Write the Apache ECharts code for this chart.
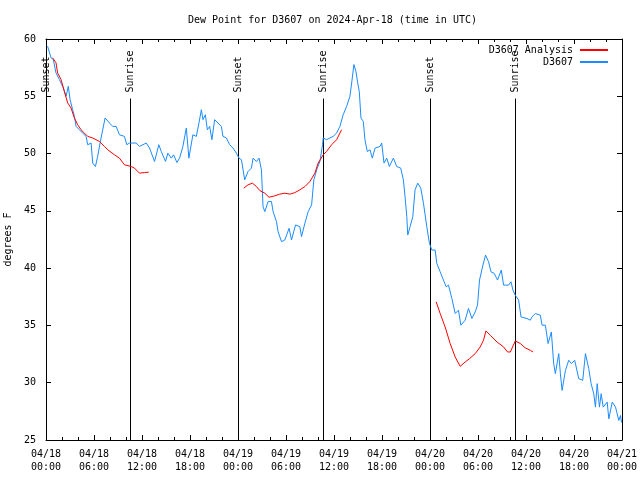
<!DOCTYPE html>
<html><head><meta charset="utf-8">
<script src="https://cdn.jsdelivr.net/npm/echarts@6/dist/echarts.min.js"></script>
<style>html,body{margin:0;padding:0;background:#fff}#c{width:640px;height:480px}</style>
</head><body><div id="c"></div>
<script>
const blueHours = [0.20,0.63,0.91,1.25,1.67,2.17,2.51,2.79,3.01,3.33,3.55,3.76,4.17,4.58,5.01,5.21,5.64,5.84,6.18,6.46,6.76,7.09,7.39,7.93,8.34,8.77,9.18,9.81,10.10,10.43,11.27,11.69,12.53,12.94,13.57,14.10,14.41,14.94,15.23,15.66,15.95,16.36,16.70,17.11,17.54,17.86,18.36,18.79,19.12,19.42,19.62,19.92,20.17,20.46,20.74,21.08,21.50,21.92,22.12,22.55,22.96,23.37,23.80,24.13,24.43,24.63,24.84,25.25,25.68,25.88,26.31,26.63,26.93,27.13,27.35,27.76,28.18,28.39,28.81,29.01,29.44,29.85,30.39,30.69,31.19,31.73,31.94,32.36,32.77,33.20,33.48,33.90,34.24,34.57,34.65,35.07,35.49,35.90,36.33,36.74,37.15,37.58,37.99,38.21,38.49,38.74,38.96,39.16,39.37,39.66,39.87,40.16,40.50,40.79,41.13,41.75,41.96,42.25,42.59,42.92,43.42,43.84,44.34,44.67,44.88,45.10,45.22,45.51,45.85,46.13,46.47,46.85,47.18,47.60,47.93,48.23,48.64,48.85,49.27,49.68,50.02,50.31,50.73,51.15,51.56,51.86,52.40,52.81,53.03,53.24,53.65,53.94,54.19,54.62,54.94,55.32,55.62,56.03,56.44,56.91,57.20,57.82,58.12,58.37,58.66,59.08,59.38,60.13,60.54,60.75,61.17,61.79,62.01,62.42,62.76,63.17,63.46,63.67,64.09,64.30,64.51,64.93,65.34,65.68,66.09,66.59,67.09,67.43,67.84,68.14,68.47,68.68,68.90,69.18,69.40,69.65,70.15,70.35,70.78,71.19,71.60,71.81,71.94];
const blueValues = [59.37,58.36,58.21,57.04,56.46,55.73,55.0,55.87,54.71,53.83,53.25,52.37,52.08,51.79,51.50,50.77,50.92,49.17,48.87,49.75,50.92,52.08,53.11,52.67,52.37,52.37,51.64,51.50,50.77,50.92,50.92,50.62,50.92,50.48,49.31,50.77,50.18,49.31,50.04,49.60,49.89,49.22,49.60,50.62,52.23,49.60,51.64,51.50,52.67,53.83,52.96,53.39,52.08,52.37,51.21,52.96,52.67,52.37,51.50,51.36,50.77,50.48,50.04,49.60,49.46,49.60,47.71,48.43,48.73,49.60,49.31,49.60,48.58,45.37,44.93,45.81,45.81,44.93,44.06,43.18,42.31,42.46,43.48,42.46,43.77,43.62,42.75,43.92,44.93,45.52,47.71,48.73,49.31,50.77,51.36,51.21,51.36,51.50,51.79,52.37,53.39,54.12,55.0,56.17,57.77,57.18,56.17,55.43,53.11,52.81,51.21,50.18,50.33,49.60,50.48,50.62,50.92,49.17,49.60,48.87,49.60,48.87,48.73,47.71,46.24,44.49,42.89,43.62,44.49,46.83,47.42,46.98,45.67,43.62,42.17,41.58,41.58,40.42,39.68,38.96,38.37,38.52,37.36,36.04,36.33,35.02,35.46,36.48,36.62,35.61,36.18,36.77,38.96,40.27,41.14,40.56,39.68,39.54,38.96,39.83,38.52,38.52,38.81,38.08,37.64,37.21,35.74,35.60,35.46,35.74,36.04,35.89,35.02,35.02,33.42,34.43,31.67,30.79,32.54,30.79,29.33,31.08,31.96,31.67,31.96,30.36,30.21,32.54,31.23,29.92,29.04,27.87,29.92,27.87,29.04,27.87,28.31,26.85,28.31,27.87,26.71,27.14,26.53];
const redHours = [0.83,1.25,1.45,1.88,2.29,2.71,3.13,3.55,3.96,4.38,4.80,5.21,5.84,6.68,7.30,7.72,8.56,9.18,9.81,10.65,11.06,11.69,12.31,12.85,18.0,24.72,25.25,25.80,26.31,26.72,27.35,27.88,28.60,29.22,29.85,30.48,31.10,31.73,32.36,32.99,33.61,34.02,34.65,35.07,35.70,36.33,36.74,36.95,42.0,48.77,49.27,49.89,50.52,51.15,51.77,52.40,52.94,53.65,54.27,54.69,54.99,55.53,56.37,57.20,57.70,58.04,58.66,59.29,59.91,60.54,60.88];
const redValues = [58.36,57.92,57.04,56.46,55.43,54.42,53.98,53.11,52.52,52.08,51.79,51.50,51.36,51.06,50.62,50.33,49.89,49.60,49.02,48.87,48.73,48.29,48.34,48.38,null,46.98,47.27,47.42,47.12,46.77,46.54,46.19,46.31,46.46,46.54,46.46,46.59,46.83,47.12,47.56,48.29,49.17,49.89,50.18,50.77,51.21,51.79,52.08,null,37.06,36.04,34.87,33.42,32.24,31.43,31.81,32.10,32.54,33.12,33.71,34.52,34.14,33.56,33.12,32.68,32.68,33.64,33.42,33.04,32.83,32.68];
const eventHours = [0.02,10.55,24.0,34.62,48.05,58.57];
const eventLabels = ['Sunset','Sunrise','Sunset','Sunrise','Sunset','Sunrise'];
const tickLabels = ['04/18\n00:00','04/18\n06:00','04/18\n12:00','04/18\n18:00','04/19\n00:00','04/19\n06:00','04/19\n12:00','04/19\n18:00','04/20\n00:00','04/20\n06:00','04/20\n12:00','04/20\n18:00','04/21\n00:00'];

const FONT = '"DejaVu Sans Mono", monospace';
const chart = echarts.init(document.getElementById('c'), null, {renderer:'canvas'});
const axisBase = {
  axisLine:{show:true, onZero:false, lineStyle:{color:'#000', width:1}},
  splitLine:{show:false}
};
const legendBase = {orient:'vertical', align:'right', padding:0, itemWidth:28, itemHeight:12,
  icon:'inherit', itemStyle:{opacity:0, borderWidth:0},
  textStyle:{fontFamily:FONT, fontSize:10, color:'#000', padding:[0,2,0,0]}};
chart.setOption({
  animation:false,
  backgroundColor:'#fff',
  title:{text:'Dew Point for D3607 on 2024-Apr-18 (time in UTC)', left:188, top:15, padding:0,
    textStyle:{fontFamily:FONT, fontSize:10, fontWeight:'normal', color:'#000'}},
  legend:[
    Object.assign({data:['D3607 Analysis'], right:31, top:45}, legendBase),
    Object.assign({data:['D3607'], right:31, top:57}, legendBase)
  ],
  grid:{left:46, right:18, top:39, bottom:40, containLabel:false, outerBoundsMode:'none'},
  xAxis:[
    Object.assign({type:'value', min:0, max:72, interval:6, position:'bottom',
      axisTick:{show:true, inside:true, length:5, lineStyle:{color:'#000'}},
      minorTick:{show:true, splitNumber:3, length:3, lineStyle:{color:'#000'}},
      axisLabel:{margin:8, lineHeight:13, fontFamily:FONT, fontSize:10, color:'#000',
        formatter:function(v){return tickLabels[Math.round(v/6)];}}}, axisBase),
    Object.assign({type:'value', min:0, max:72, interval:6, position:'top',
      axisTick:{show:true, inside:true, length:5, lineStyle:{color:'#000'}},
      minorTick:{show:true, splitNumber:3, length:3, lineStyle:{color:'#000'}},
      axisLabel:{show:false}}, axisBase)
  ],
  yAxis:[
    Object.assign({type:'value', min:25, max:60, interval:5, position:'left',
      name:'degrees F', nameLocation:'middle', nameGap:33,
      nameTextStyle:{fontFamily:FONT, fontSize:10, color:'#000'},
      axisTick:{show:true, inside:true, length:5, lineStyle:{color:'#000'}},
      axisLabel:{margin:10, fontFamily:FONT, fontSize:10, color:'#000'}}, axisBase),
    Object.assign({type:'value', min:25, max:60, interval:5, position:'right',
      axisTick:{show:true, inside:true, length:5, lineStyle:{color:'#000'}},
      axisLabel:{show:false}}, axisBase)
  ],
  series:[
    {type:'custom', name:'events', z:1, clip:false, silent:true,
      data:eventHours.map(function(h){return [h,25];}),
      encode:{x:0,y:1},
      renderItem:function(params, api){
        const t = api.value(0);
        const top = api.coord([t,60]);
        const bot = api.coord([t,25]);
        const x = Math.round(top[0]) + 0.5;
        const lineTop = top[1] + 59.5;
        return {type:'group', children:[
          {type:'line', shape:{x1:x, y1:lineTop, x2:x, y2:bot[1]}, style:{stroke:'#000', lineWidth:1}},
          {type:'text', x:x, y:lineTop-6, rotation:Math.PI/2,
            style:{text:eventLabels[params.dataIndex], font:'10px "DejaVu Sans Mono"', fill:'#000', align:'left', verticalAlign:'middle'}}
        ]};
      }},
    {type:'line', name:'D3607 Analysis', z:3, symbol:'none', showSymbol:false, connectNulls:false,
      color:'#ff0000', lineStyle:{color:'#ff0000', width:1},
      data:redHours.map(function(h,i){return [h, redValues[i]];})},
    {type:'line', name:'D3607', z:2, symbol:'none', showSymbol:false,
      color:'#1a8cff', lineStyle:{color:'#1a8cff', width:1},
      data:blueHours.map(function(h,i){return [h, blueValues[i]];})}
  ]
});
</script></body></html>
